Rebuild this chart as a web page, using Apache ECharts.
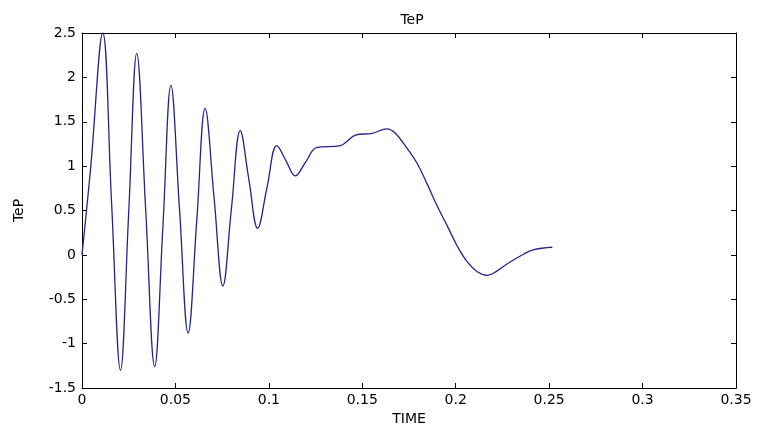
<!DOCTYPE html>
<html>
<head>
<meta charset="utf-8">
<script src="https://cdn.jsdelivr.net/npm/echarts@6/dist/echarts.min.js"></script>
<style>
  html, body { margin: 0; padding: 0; background: #fff; }
  #chart { width: 758px; height: 431px; }
</style>
</head>
<body>
<div id="chart"></div>
<script>
// values
const time = [
  0, 0.0045, 0.0111, 0.0158, 0.0206, 0.0250, 0.0293, 0.0341, 0.0389, 0.0433,
  0.0476, 0.0522, 0.0568, 0.0614, 0.0659, 0.0707, 0.0754, 0.0800, 0.0847, 0.0893,
  0.0940, 0.0991, 0.1043, 0.1092, 0.1141, 0.1195, 0.1258, 0.1383, 0.1419, 0.1463,
  0.1553, 0.1633, 0.1677, 0.1740, 0.1794, 0.1847, 0.1901, 0.1954, 0.2008, 0.2062,
  0.2115, 0.2169, 0.2222, 0.2276, 0.2365, 0.2419, 0.2517
];
const tep = [
  0, 0.95, 2.5, 0.6, -1.3, 0.48, 2.27, 0.5, -1.26, 0.32,
  1.91, 0.51, -0.88, 0.38, 1.65, 0.64, -0.35, 0.53, 1.40, 0.85,
  0.30, 0.77, 1.23, 1.06, 0.89, 1.04, 1.21, 1.23, 1.28, 1.35,
  1.37, 1.42, 1.37, 1.20, 1.03, 0.80, 0.55, 0.33, 0.10, -0.08,
  -0.19, -0.23, -0.18, -0.10, 0.01, 0.06, 0.086
];
const xTicks = { min: 0, max: 0.35, interval: 0.05 };
const yTicks = { min: -1.5, max: 2.5, interval: 0.5 };

const font = 'DejaVu Sans';
const chart = echarts.init(document.getElementById('chart'));

const axisLine = { show: true, onZero: false, lineStyle: { color: '#000', width: 1 } };
const axisTick = { show: true, inside: true, length: 5, lineStyle: { color: '#000' } };
const label = { color: '#000', fontFamily: font, fontSize: 14 };

chart.setOption({
  animation: false,
  backgroundColor: '#fff',
  title: {
    text: 'TeP',
    left: 407,
    top: 8,
    textAlign: 'center',
    textStyle: { fontFamily: font, fontSize: 14, fontWeight: 'normal', color: '#000' }
  },
  grid: { left: 82, right: 22, top: 33, bottom: 41 },
  xAxis: [
    {
      type: 'value', ...xTicks,
      name: 'TIME', nameLocation: 'middle', nameGap: 24,
      nameTextStyle: label,
      axisLine, axisTick,
      axisLabel: { ...label, margin: 5 },
      splitLine: { show: false }
    },
    {
      type: 'value', ...xTicks, position: 'top',
      axisLine, axisTick,
      axisLabel: { show: false },
      splitLine: { show: false }
    }
  ],
  yAxis: [
    {
      type: 'value', ...yTicks,
      name: 'TeP', nameLocation: 'middle', nameGap: 56,
      nameTextStyle: label,
      axisLine, axisTick,
      axisLabel: { ...label, margin: 6 },
      splitLine: { show: false }
    },
    {
      type: 'value', ...yTicks, position: 'right',
      axisLine, axisTick,
      axisLabel: { show: false },
      splitLine: { show: false }
    }
  ],
  series: [{
    type: 'line',
    data: time.map((t, i) => [t, tep[i]]),
    smooth: 0.4,
    symbol: 'none',
    lineStyle: { color: '#23238e', width: 1.3 }
  }]
});
</script>
</body>
</html>
